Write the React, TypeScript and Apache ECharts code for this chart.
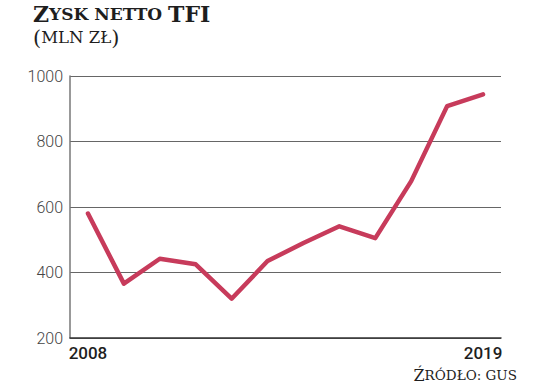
import React, { useEffect, useRef } from "react";
import * as echarts from "echarts";

const years = ["2008", "2009", "2010", "2011", "2012", "2013", "2014", "2015", "2016", "2017", "2018", "2019"];
const profit = [580, 366, 442, 425, 320, 435, 490, 541, 505, 679, 908, 944];
const yTicks = { min: 200, max: 1000, interval: 200 };

export default function App() {
  const ref = useRef<HTMLDivElement>(null);
  useEffect(() => {
    document.body.style.margin = "0";
    if (!ref.current) return;
    const chart = echarts.init(ref.current, null, { renderer: "svg" });
    const serif = "'DejaVu Serif', 'Liberation Serif', serif";
    chart.setOption({
      animation: false,
      backgroundColor: "#ffffff",
      grid: { left: 70, right: 35, top: 76, bottom: 53 },
      graphic: [
        {
          type: "text",
          left: 33,
          top: 3,
          style: {
            text: "{a|Z}{b|YSK NETTO }{a|TFI}",
            rich: {
              a: { fontFamily: serif, fontWeight: "bold", fontSize: 22, fill: "#1e1e1e" },
              b: { fontFamily: serif, fontWeight: "bold", fontSize: 17, fill: "#1e1e1e" },
            },
          },
        },
        {
          type: "text",
          left: 33,
          top: 27,
          style: {
            text: "{p|(}{b|MLN ZŁ}{p|)}",
            rich: {
              p: { fontFamily: serif, fontSize: 21, fill: "#1e1e1e" },
              b: { fontFamily: serif, fontSize: 16.5, fill: "#1e1e1e" },
            },
          },
        },
        {
          type: "text",
          right: 19,
          top: 367,
          style: {
            text: "{a|Ź}{b|RÓDŁO: GUS}",
            rich: {
              a: { fontFamily: serif, fontSize: 16, fill: "#1e1e1e" },
              b: { fontFamily: serif, fontSize: 13.5, fill: "#1e1e1e" },
            },
          },
        },
      ],
      xAxis: {
        type: "category",
        data: years,
        boundaryGap: true,
        axisLine: { show: true, lineStyle: { color: "#333", width: 1.5 } },
        axisTick: { show: false },
        axisLabel: {
          interval: (i: number) => i === 0 || i === years.length - 1,
          fontFamily: "Roboto",
          fontWeight: 500,
          fontSize: 17,
          color: "#1e1e1e",
          margin: 6,
        },
      },
      yAxis: {
        type: "value",
        min: yTicks.min,
        max: yTicks.max,
        interval: yTicks.interval,
        axisLine: { show: true, lineStyle: { color: "#777", width: 1.5 } },
        axisTick: { show: false },
        splitLine: { show: true, lineStyle: { color: "#666", width: 1.2 } },
        axisLabel: {
          formatter: (v: number) => String(v),
          fontFamily: "Roboto",
          fontWeight: 300,
          fontSize: 16,
          color: "#444",
          margin: 7,
        },
      },
      series: [
        {
          type: "line",
          data: profit,
          symbol: "none",
          lineStyle: { color: "#c73b5b", width: 4.5, cap: "round", join: "round" },
        },
      ],
    });
    return () => chart.dispose();
  }, []);
  return <div ref={ref} style={{ width: 536, height: 391 }} />;
}
